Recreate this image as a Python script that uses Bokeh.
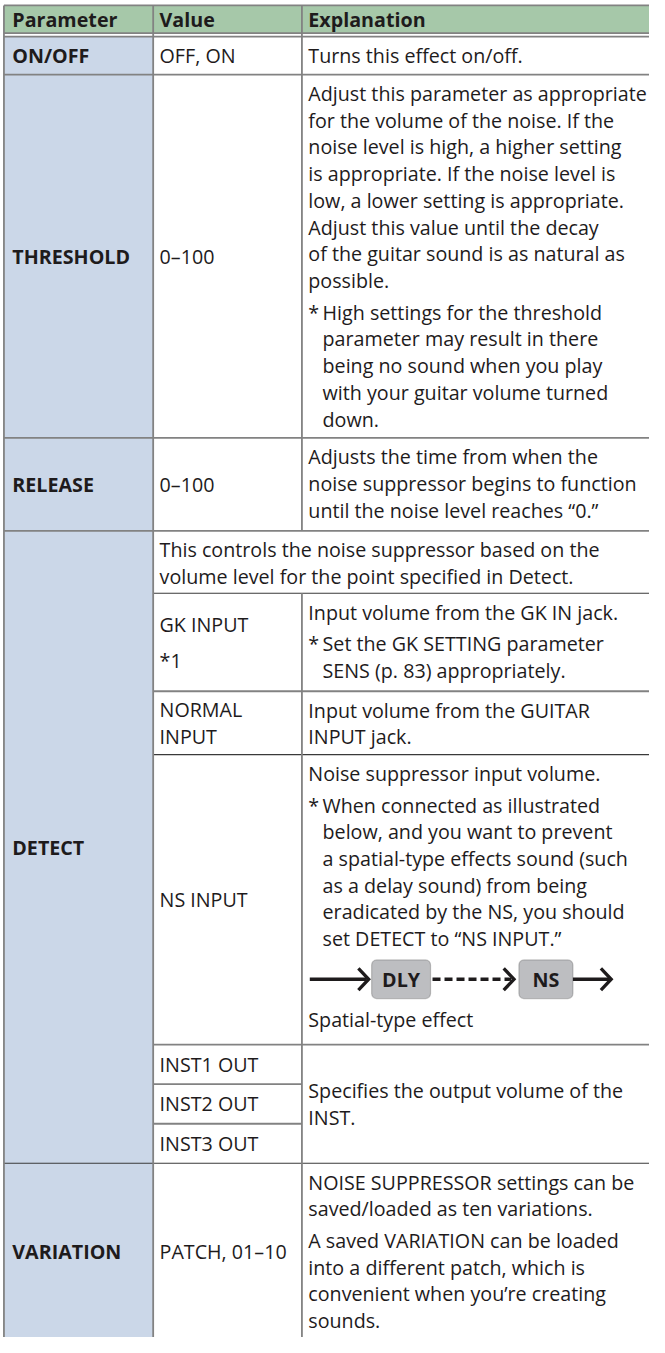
from bokeh.plotting import figure
from bokeh.models import Range1d, ColumnDataSource, BoxAnnotation
from bokeh.embed import file_html
from bokeh.resources import INLINE
from bokeh.core.properties import value

# ---------------- table content ----------------
headers = ["Parameter", "Value", "Explanation"]

parameters = ["ON/OFF", "THRESHOLD", "RELEASE", "DETECT", "VARIATION"]
# sub-row index range covered by each parameter cell
parameter_spans = [(0, 0), (1, 1), (2, 2), (3, 9), (10, 10)]

# value column, one entry per sub-row (None = merged into the explanation)
value_cells = [
    [["OFF, ON"]],
    [["0–100"]],
    [["0–100"]],
    None,
    [["GK INPUT"], ["*1"]],
    [["NORMAL", "INPUT"]],
    [["NS INPUT"]],
    [["INST1 OUT"]],
    [["INST2 OUT"]],
    [["INST3 OUT"]],
    [["PATCH, 01–10"]],
]

DIAGRAM = "DIAGRAM"
diagram_labels = ["DLY", "NS"]

# explanation cells: (first sub-row, last sub-row, starts in value column?, centred?, paragraphs)
explanation_cells = [
    (0, 0, False, False, [["Turns this effect on/off."]]),
    (1, 1, False, False, [
        ["Adjust this parameter as appropriate",
         "for the volume of the noise. If the",
         "noise level is high, a higher setting",
         "is appropriate. If the noise level is",
         "low, a lower setting is appropriate.",
         "Adjust this value until the decay",
         "of the guitar sound is as natural as",
         "possible."],
        ["* High settings for the threshold",
         "parameter may result in there",
         "being no sound when you play",
         "with your guitar volume turned",
         "down."]]),
    (2, 2, False, False, [
        ["Adjusts the time from when the",
         "noise suppressor begins to function",
         "until the noise level reaches \u201c0.\u201d"]]),
    (3, 3, True, False, [
        ["This controls the noise suppressor based on the",
         "volume level for the point specified in Detect."]]),
    (4, 4, False, False, [
        ["Input volume from the GK IN jack."],
        ["* Set the GK SETTING parameter",
         "SENS (p. 83) appropriately."]]),
    (5, 5, False, False, [
        ["Input volume from the GUITAR",
         "INPUT jack."]]),
    (6, 6, False, False, [
        ["Noise suppressor input volume."],
        ["* When connected as illustrated",
         "below, and you want to prevent",
         "a spatial-type effects sound (such",
         "as a delay sound) from being",
         "eradicated by the NS, you should",
         "set DETECT to \u201cNS INPUT.\u201d"],
        DIAGRAM,
        ["Spatial-type effect"]]),
    (7, 9, False, True, [
        ["Specifies the output volume of the",
         "INST."]]),
    (10, 10, False, False, [
        ["NOISE SUPPRESSOR settings can be",
         "saved/loaded as ten variations."],
        ["A saved VARIATION can be loaded",
         "into a different patch, which is",
         "convenient when you\u2019re creating",
         "sounds."]]),
]

# ---------------- layout / style ----------------
FONT = value("Open Sans")
FS = "19.7px"
TXT = "#1e1b1c"
GREEN = "#a6c8a9"
BLUE = "#cbd7e8"
GRID = "#828282"
DARK = "#3a3a3a"
BOXFILL = "#bdbec1"

X_LEFT, X_C1, X_C2, X_RIGHT = 3.5, 155.5, 307.0, 665.0
HEAD_TOP, HEAD_BOT, BODY_TOP = 5.0, 33.0, 36.5
row_bounds = [36.5, 75, 442, 536, 599, 698, 762, 1055, 1095, 1135, 1175, 1353]
TX = [12.0, 162.0, 313.5]
LINE, PARA_GAP, VAL_GAP, PAD = 27.0, 5.0, 9.0, 5.5
CAP = 0.0          # text is drawn with its visual centre on the given y
NOTE_INDENT = 14.5
DIAG_H = 55.0

W, H = 649, 1337
p = figure(width=W, height=H, x_range=Range1d(0, 661), y_range=Range1d(1351, 0),
           output_backend="svg", toolbar_location=None, min_border=0,
           x_axis_location=None, y_axis_location=None)
p.grid.visible = False
p.outline_line_color = None
p.background_fill_color = "white"
p.border_fill_color = "white"

# backgrounds
p.quad(left=[X_LEFT], right=[X_RIGHT], top=[HEAD_TOP], bottom=[HEAD_BOT],
       fill_color=GREEN, line_color=None)
p.quad(left=[X_LEFT], right=[X_C1], top=[BODY_TOP], bottom=[row_bounds[-1]],
       fill_color=BLUE, line_color=None)

# ---------------- text layout helpers ----------------
reg = dict(x=[], y=[], text=[])
bold = dict(x=[], y=[], text=[])
diagram_centres = []


def block_height(paragraphs, gap):
    h, prev = 0.0, None
    for para in paragraphs:
        if para == DIAGRAM:
            h += DIAG_H
        else:
            if prev is not None and prev != DIAGRAM:
                h += gap
            h += LINE * len(para)
        prev = para
    return h


def place_block(paragraphs, x0, y_top, gap, out):
    y, prev = y_top, None
    for para in paragraphs:
        if para == DIAGRAM:
            diagram_centres.append((x0, y + DIAG_H / 2))
            y += DIAG_H
            prev = para
            continue
        if prev is not None and prev != DIAGRAM:
            y += gap
        note = para[0].startswith("* ")
        for k, line in enumerate(para):
            base = y + LINE / 2 + CAP
            if note:
                if k == 0:
                    out["x"].append(x0); out["y"].append(base); out["text"].append("*")
                    line = line[2:]
                out["x"].append(x0 + NOTE_INDENT)
            else:
                out["x"].append(x0)
            out["y"].append(base); out["text"].append(line)
            y += LINE
        prev = para


# header
for i, h in enumerate(headers):
    bold["x"].append(TX[i]); bold["y"].append((HEAD_TOP + HEAD_BOT) / 2 + CAP); bold["text"].append(h)

# parameter column (centred)
for name, (a, b) in zip(parameters, parameter_spans):
    yc = (row_bounds[a] + row_bounds[b + 1]) / 2
    bold["x"].append(TX[0]); bold["y"].append(yc + CAP); bold["text"].append(name)

# value column (centred)
for i, cell in enumerate(value_cells):
    if cell is None:
        continue
    top, bot = row_bounds[i], row_bounds[i + 1]
    hgt = block_height(cell, VAL_GAP)
    place_block(cell, TX[1], (top + bot) / 2 - hgt / 2, VAL_GAP, reg)

# explanation column
for a, b, wide, centred, paras in explanation_cells:
    top, bot = row_bounds[a], row_bounds[b + 1]
    x0 = TX[1] if wide else TX[2]
    if centred:
        y0 = (top + bot) / 2 - block_height(paras, PARA_GAP) / 2
    else:
        y0 = top + PAD
    place_block(paras, x0, y0, PARA_GAP, reg)

# ---------------- grid lines ----------------
seg = dict(x0=[], y0=[], x1=[], y1=[], c=[], w=[])


def add(x0, y0, x1, y1, c=GRID, w=1.8):
    seg["x0"].append(x0); seg["y0"].append(y0); seg["x1"].append(x1); seg["y1"].append(y1)
    seg["c"].append(c); seg["w"].append(w)


add(X_LEFT, HEAD_TOP, X_RIGHT, HEAD_TOP)
add(X_LEFT, HEAD_BOT, X_RIGHT, HEAD_BOT)
add(X_LEFT, BODY_TOP, X_RIGHT, BODY_TOP)
for i in [1, 2, 3]:
    add(X_LEFT, row_bounds[i], X_RIGHT, row_bounds[i])
add(X_C1, row_bounds[4], X_RIGHT, row_bounds[4], DARK, 1.1)
add(X_C1, row_bounds[5], X_RIGHT, row_bounds[5])
add(X_C1, row_bounds[6], X_RIGHT, row_bounds[6], DARK, 1.1)
add(X_C1, row_bounds[7], X_RIGHT, row_bounds[7])
add(X_C1, row_bounds[8], X_C2, row_bounds[8])
add(X_C1, row_bounds[9], X_C2, row_bounds[9])
add(X_LEFT, row_bounds[10], X_RIGHT, row_bounds[10], DARK, 1.1)
add(X_LEFT, HEAD_TOP, X_LEFT, row_bounds[-1])
add(X_C1, HEAD_TOP, X_C1, row_bounds[-1])
add(X_C2, HEAD_TOP, X_C2, row_bounds[3])
add(X_C2, row_bounds[4], X_C2, row_bounds[-1])

p.segment(x0="x0", y0="y0", x1="x1", y1="y1", line_color="c", line_width="w",
          source=ColumnDataSource(seg))

# ---------------- text ----------------
p.text(x="x", y="y", text="text", source=ColumnDataSource(reg), text_font=FONT,
       text_font_size=FS, text_color=TXT, text_baseline="alphabetic", text_align="left")
p.text(x="x", y="y", text="text", source=ColumnDataSource(bold), text_font=FONT,
       text_font_size=FS, text_font_style="bold", text_color=TXT,
       text_baseline="alphabetic", text_align="left")

# ---------------- signal-flow diagram ----------------
for (dx, dy) in diagram_centres:
    ox = dx + 1.5                      # diagram left edge
    b1 = (ox + 63, ox + 123)           # DLY box
    b2 = (ox + 213, ox + 268)          # NS box
    tips = [ox + 60, ox + 208, ox + 307]
    p.segment(x0=[ox, b2[1]], y0=[dy, dy], x1=[tips[0] - 2, tips[2] - 2], y1=[dy, dy],
              line_color=TXT, line_width=3.3)
    p.segment(x0=[b1[1] + 2], y0=[dy], x1=[tips[1] - 3], y1=[dy],
              line_color=TXT, line_width=3.3, line_dash="8 4")
    p.multi_line(xs=[[t - 10.5, t, t - 10.5] for t in tips],
                 ys=[[dy - 11, dy, dy + 11] for _ in tips],
                 line_color=TXT, line_width=3.3, line_join="miter")
    for bx in (b1, b2):
        p.add_layout(BoxAnnotation(left=bx[0], right=bx[1], top=dy - 19.5, bottom=dy + 19.5,
                                   fill_color=BOXFILL, fill_alpha=1.0, line_color="#4d4d4d",
                                   line_width=1.2, border_radius=5, level="underlay"))
    p.text(x=[(b1[0] + b1[1]) / 2, (b2[0] + b2[1]) / 2], y=[dy + CAP, dy + CAP],
           text=diagram_labels, text_font=FONT, text_font_size=FS, text_font_style="bold",
           text_color=TXT, text_align="center", text_baseline="alphabetic")

open("out.html", "w").write(file_html(p, INLINE))
